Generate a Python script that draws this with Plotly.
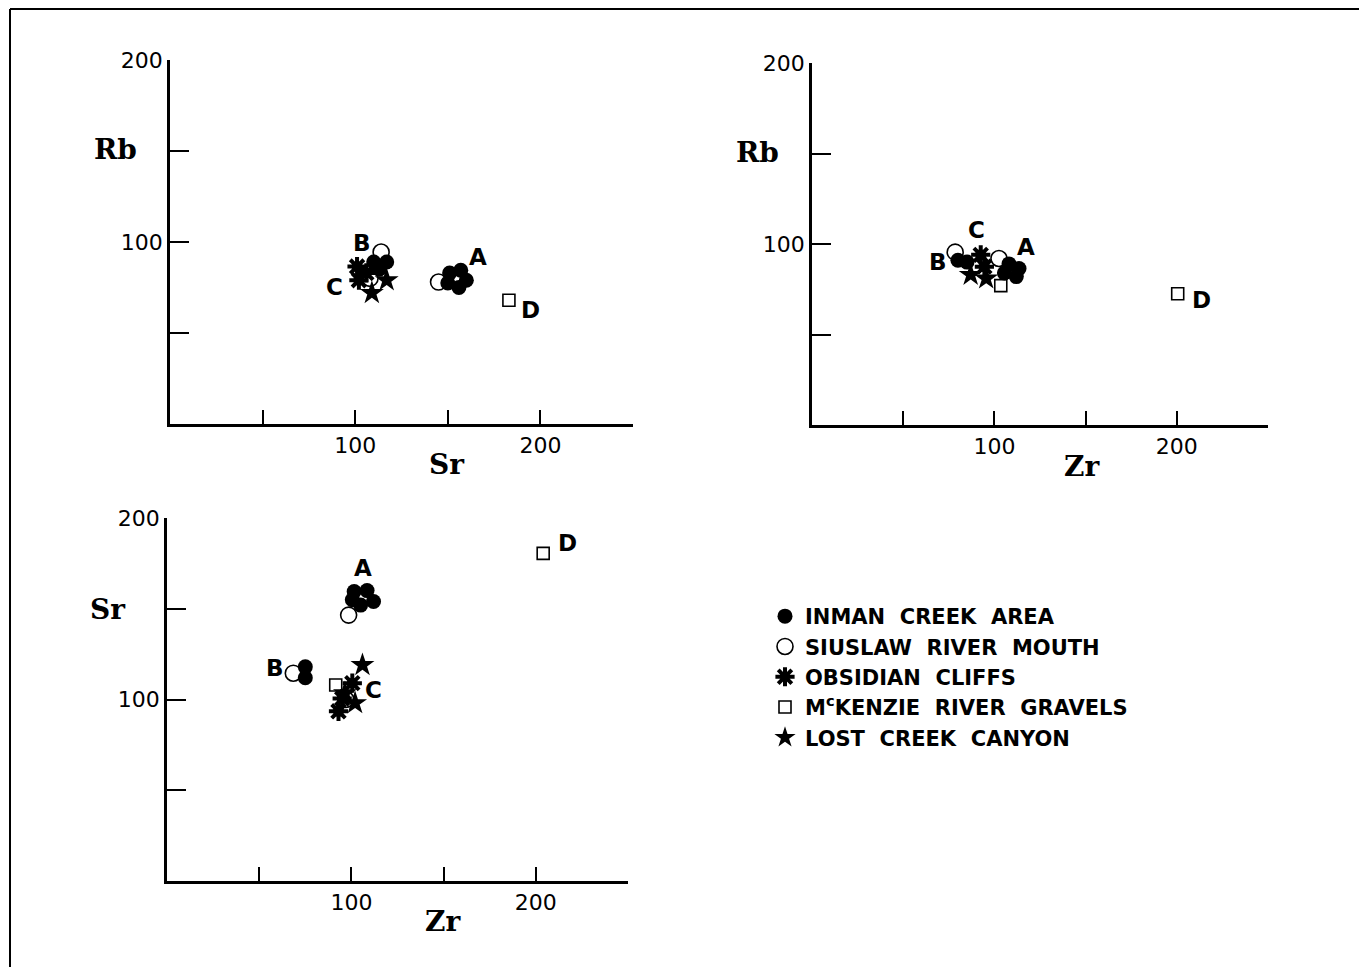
import plotly.graph_objects as go

W, H = 1367, 967
OFFSET = 8  # page body offset of the rendered plot

# ---------------- data ----------------
series_names = [
    "INMAN\u00a0\u00a0CREEK\u00a0\u00a0AREA",
    "SIUSLAW\u00a0\u00a0RIVER\u00a0\u00a0MOUTH",
    "OBSIDIAN\u00a0\u00a0CLIFFS",
    "M<sup>c</sup>KENZIE\u00a0\u00a0RIVER\u00a0\u00a0GRAVELS",
    "LOST\u00a0\u00a0CREEK\u00a0\u00a0CANYON",
]

# Panel 1: Rb vs Sr
p1_inman_sr = [110, 117, 113, 151, 157, 160, 156, 150]
p1_inman_rb = [89, 89, 85, 83, 84.5, 79, 75, 77.5]
p1_siuslaw_sr = [114, 108, 145]
p1_siuslaw_rb = [94.5, 80, 78]
p1_obsidian_sr = [101, 102, 106]
p1_obsidian_rb = [86.5, 79, 83]
p1_mckenzie_sr = [183]
p1_mckenzie_rb = [68]
p1_lost_sr = [117, 109]
p1_lost_rb = [79, 72]

# Panel 2: Rb vs Zr
p2_inman_zr = [80, 85, 108, 113.5, 112, 105.5]
p2_inman_rb = [91, 90, 89, 86.5, 82, 84]
p2_siuslaw_zr = [78.5, 102.5]
p2_siuslaw_rb = [95.5, 92]
p2_obsidian_zr = [92.5, 94.5]
p2_obsidian_rb = [94, 87.5]
p2_mckenzie_zr = [103.5, 200.5]
p2_mckenzie_rb = [77, 72.5]
p2_lost_zr = [87, 95.5]
p2_lost_rb = [83, 81]

# Panel 3: Sr vs Zr
p3_inman_zr = [101.5, 108.5, 112, 105, 100.5, 75, 75]
p3_inman_sr = [159.5, 160, 154, 152, 155, 118, 112]
p3_siuslaw_zr = [98.5, 68.5, 97]
p3_siuslaw_sr = [146.5, 114.5, 100]
p3_obsidian_zr = [100.5, 95, 93]
p3_obsidian_sr = [109, 100.5, 93.5]
p3_mckenzie_zr = [91.5, 204]
p3_mckenzie_sr = [108, 180.5]
p3_lost_zr = [106, 102, 96.5]
p3_lost_sr = [119, 98, 103.5]

# Group labels
group_letters = ["A", "B", "C", "D"]
p1_label_sr = [166.5, 103.5, 89, 194.5]
p1_label_rb = [92, 99.5, 75.5, 62.5]
p2_label_zr = [117.5, 69, 90, 213.5]
p2_label_rb = [98.5, 90, 107.5, 69]
p3_label_zr = [106.5, 58.5, 112, 217]
p3_label_sr = [172.5, 117.5, 105, 186]

labelled_ticks = [100, 200]
tick_step = 50

# ---------------- figure ----------------
fig = go.Figure()

panels = [
    ("x", "y", [p1_inman_sr, p1_siuslaw_sr, p1_obsidian_sr, p1_mckenzie_sr, p1_lost_sr],
     [p1_inman_rb, p1_siuslaw_rb, p1_obsidian_rb, p1_mckenzie_rb, p1_lost_rb]),
    ("x2", "y2", [p2_inman_zr, p2_siuslaw_zr, p2_obsidian_zr, p2_mckenzie_zr, p2_lost_zr],
     [p2_inman_rb, p2_siuslaw_rb, p2_obsidian_rb, p2_mckenzie_rb, p2_lost_rb]),
    ("x3", "y3", [p3_inman_zr, p3_siuslaw_zr, p3_obsidian_zr, p3_mckenzie_zr, p3_lost_zr],
     [p3_inman_sr, p3_siuslaw_sr, p3_obsidian_sr, p3_mckenzie_sr, p3_lost_sr]),
]

BLACK = "#000000"
# drawing order: open symbols first so filled ones sit on top
draw_order = [1, 3, 0, 2, 4]
styles = {
    0: dict(symbol="circle", size=15, color=BLACK, line=dict(width=0)),
    1: dict(symbol="circle", size=16, color="white", line=dict(width=1.6, color=BLACK)),
    2: dict(symbol="asterisk-open", size=16, color=BLACK, line=dict(width=4, color=BLACK)),
    3: dict(symbol="square", size=12, color="white", line=dict(width=1.6, color=BLACK)),
    4: dict(symbol="star", size=18, color=BLACK, line=dict(width=0)),
}

for pi, (xa, ya, xs, ys) in enumerate(panels):
    for si in draw_order:
        if si == 2:
            # solid core of the starburst
            fig.add_trace(go.Scatter(
                x=xs[si], y=ys[si], xaxis=xa, yaxis=ya, mode="markers",
                marker=dict(symbol="circle", size=11, color=BLACK),
                showlegend=False, hoverinfo="skip"))
        fig.add_trace(go.Scatter(
            x=xs[si], y=ys[si], xaxis=xa, yaxis=ya, mode="markers",
            name=series_names[si], marker=styles[si],
            showlegend=(pi == 0), legendrank=si + 1))

# group letters
letter_font = dict(family="DejaVu Sans", size=23, color=BLACK, weight="bold")
for xa, ya, lx, ly in [("x", "y", p1_label_sr, p1_label_rb),
                       ("x2", "y2", p2_label_zr, p2_label_rb),
                       ("x3", "y3", p3_label_zr, p3_label_sr)]:
    for t, vx, vy in zip(group_letters, lx, ly):
        fig.add_annotation(x=vx, y=vy, xref=xa, yref=ya, text=t, showarrow=False,
                           font=letter_font, xanchor="center", yanchor="middle")

def px2x(p):
    return (p - OFFSET) / W

def px2y(p):
    return 1 - (p - OFFSET) / H

axis_common = dict(
    showline=True, linecolor=BLACK, linewidth=2.5, mirror=False,
    showgrid=False, zeroline=False, ticks="inside", tickcolor=BLACK,
    tickwidth=2.2, tickfont=dict(family="DejaVu Sans", size=22, color=BLACK),
    fixedrange=True, automargin=False,
    tickmode="array", tickvals=labelled_ticks,
    ticktext=[str(v) for v in labelled_ticks],
)

domains = {
    "1": ((170, 633), (424, 60)),
    "2": ((812, 1268), (425, 63)),
    "3": ((167, 628), (881, 518)),
}
layout_axes = {}
for k, ((x0, x1), (yb, yt)) in domains.items():
    sx = "" if k == "1" else k
    layout_axes["xaxis" + sx] = dict(
        axis_common, domain=[px2x(x0), px2x(x1)], range=[0, 250], ticklen=14,
        minor=dict(ticks="inside", dtick=tick_step, tick0=0, ticklen=14,
                   tickwidth=2.2, tickcolor=BLACK, showgrid=False),
        anchor="y" + sx)
    layout_axes["yaxis" + sx] = dict(
        axis_common, domain=[px2y(yb), px2y(yt)], range=[0, 200], ticklen=19,
        minor=dict(ticks="inside", dtick=tick_step, tick0=0, ticklen=19,
                   tickwidth=2.2, tickcolor=BLACK, showgrid=False),
        anchor="x" + sx)

fig.update_layout(**layout_axes)

# axis titles (bold serif)
title_font = dict(family="DejaVu Serif", size=28, color=BLACK, weight="bold")
for txt, cx, cy in [("Rb", 115, 150), ("Sr", 447, 465), ("Rb", 757, 153),
                    ("Zr", 1082, 467), ("Sr", 108, 609), ("Zr", 443, 921)]:
    fig.add_annotation(x=px2x(cx), y=px2y(cy), xref="paper", yref="paper",
                       text=txt, showarrow=False, font=title_font,
                       xanchor="center", yanchor="middle")

# page frame
frame = dict(color=BLACK, width=2)
top_y = px2y(OFFSET + 1)
fig.add_shape(type="line", xref="paper", yref="paper",
              x0=px2x(10), x1=px2x(1362), y0=top_y, y1=top_y, line=frame)
fig.add_shape(type="line", xref="paper", yref="paper",
              x0=px2x(10), x1=px2x(10), y0=top_y, y1=0, line=frame)
fig.add_shape(type="line", xref="paper", yref="paper",
              x0=px2x(1362), x1=px2x(1362), y0=top_y, y1=0, line=frame)

fig.update_layout(
    width=W, height=H,
    margin=dict(l=0, r=0, t=0, b=0, pad=0, autoexpand=False),
    paper_bgcolor="white", plot_bgcolor="white",
    showlegend=True,
    legend=dict(
        x=px2x(765), y=px2y(596), xanchor="left", yanchor="top",
        font=dict(family="DejaVu Sans", size=21, color=BLACK, weight="bold"),
        bgcolor="rgba(0,0,0,0)", borderwidth=0, tracegroupgap=0,
        itemsizing="trace",
    ),
)

fig.write_html("out.html")
